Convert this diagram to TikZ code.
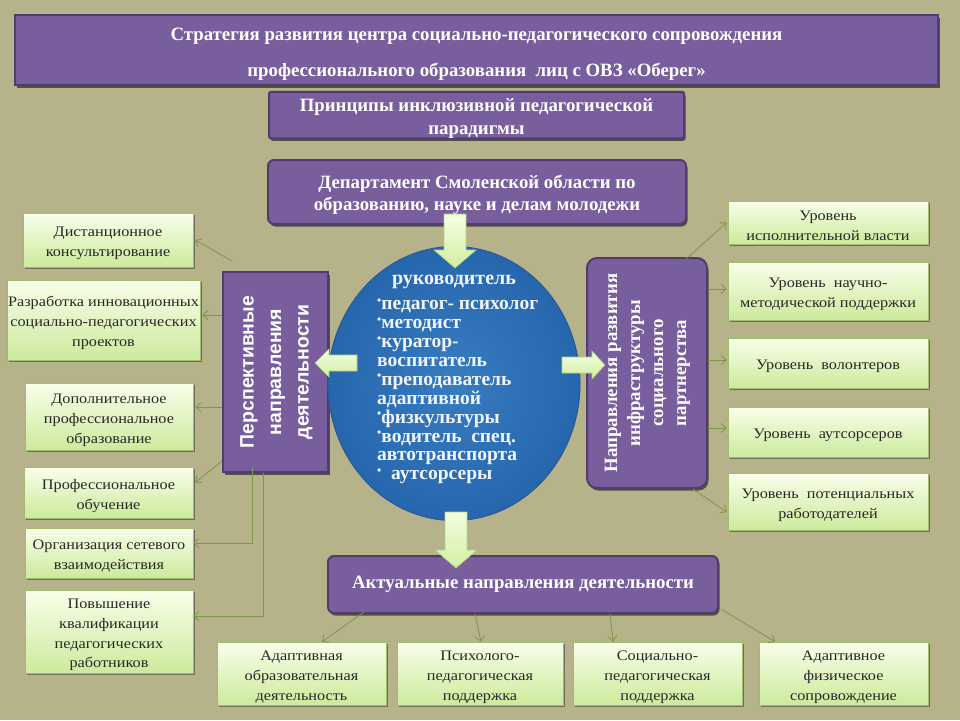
\documentclass[tikz,border=0pt]{standalone}
\usepackage{fontspec}
\setmainfont{Liberation Serif}
\newfontfamily\sansb{Liberation Sans}
\newfontfamily\wideserif[FakeStretch=1.12]{Liberation Serif}
\usetikzlibrary{arrows.meta,shadows,calc,shapes.geometric}
\definecolor{bgcol}{RGB}{182,178,138}
\definecolor{pfill}{RGB}{121,94,158}
\definecolor{pborder}{RGB}{82,60,110}
\definecolor{gtop}{RGB}{248,255,234}
\definecolor{gbot}{RGB}{204,234,156}
\definecolor{gborder}{RGB}{160,188,110}
\definecolor{gtext}{RGB}{40,40,40}
\definecolor{conncol}{RGB}{125,150,72}
\definecolor{atop}{RGB}{244,255,224}
\definecolor{abot}{RGB}{210,238,164}
\definecolor{aborder}{RGB}{175,205,130}
\definecolor{bin}{RGB}{56,124,194}
\definecolor{bout}{RGB}{38,102,172}
\definecolor{bborder}{RGB}{40,90,150}
\definecolor{ctext}{RGB}{240,245,255}
\newcommand{\gs}{\rule{0pt}{16.5pt}}
\newcommand{\ps}{\rule{0pt}{19.5pt}}
\begin{document}
\begin{tikzpicture}[x=1pt,y=-1pt,
  pbox/.style={draw=pborder, line width=2pt, fill=pfill, text=white, align=center, inner sep=0pt,
    font=\bfseries\fontsize{18.8}{23}\selectfont,
    drop shadow={shadow xshift=1.5pt, shadow yshift=-2.5pt, opacity=.55, fill=black}},
  gbox/.style={draw=gborder, line width=0.6pt, top color=gtop, bottom color=gbot, text=gtext,
    align=center, inner sep=0pt, font=\wideserif\fontsize{14.5}{19.8}\selectfont,
    drop shadow={shadow xshift=1.5pt, shadow yshift=-2pt, opacity=.6, fill=black!75}},
  conn/.style={draw=conncol, line width=0.8pt, -{Straight Barb[length=5pt,width=9pt]}},
  barrow/.style={draw=aborder, line width=0.6pt, top color=atop, bottom color=abot},
  coretext/.style={text=ctext, inner sep=0pt, font=\bfseries\fontsize{19.5}{18.9}\selectfont}
]
\fill[bgcol] (0,0) rectangle (960,720);
\useasboundingbox (0,0) rectangle (960,720);

% purple boxes
\node[pbox, minimum width=923pt, minimum height=70pt, font=\bfseries\fontsize{18.8}{36}\selectfont] (title) at (476.5,50)
  {\rule{0pt}{20.5pt}Стратегия развития центра социально-педагогического сопровождения\\профессионального образования\ \ лиц с ОВЗ «Оберег»};
\node[pbox, minimum width=415pt, minimum height=46pt, rounded corners=2pt] (princ) at (476.5,115)
  {\ps Принципы инклюзивной педагогической\\парадигмы};
\node[pbox, minimum width=418pt, minimum height=64pt, rounded corners=6pt, font=\bfseries\fontsize{18.8}{22}\selectfont] (dept) at (477,192)
  {\ps Департамент Смоленской области по\\образованию, науке и делам молодежи};
\node[pbox, minimum width=105pt, minimum height=200pt] (lv) at (275.5,372)
  {\rotatebox{90}{\sansb\bfseries\fontsize{19.4}{27.5}\selectfont\begin{tabular}{@{}c@{}}Перспективные\\направления\\деятельности\end{tabular}}};
\node[pbox, minimum width=120pt, minimum height=230pt, rounded corners=10pt] (rv) at (647,373)
  {\rotatebox{90}{\bfseries\fontsize{18.8}{23}\selectfont\begin{tabular}{@{}c@{}}Направления развития\\инфраструктуры\\социального\\партнерства\end{tabular}}};
\node[pbox, minimum width=390pt, minimum height=57pt, rounded corners=6pt] (act) at (523,584.5)
  {Актуальные направления деятельности};

% central ellipse
\node[ellipse, minimum width=252pt, minimum height=274pt, draw=bborder, line width=1pt,
  inner color=bin, outer color=bout] (core) at (454,383.5) {};
\node[coretext, font=\bfseries\fontsize{20}{20}\selectfont] (head) at (454,282) {руководитель};
\newcommand{\bul}{\raisebox{0.28em}{\fontsize{12}{12}\selectfont•}}
\node[coretext, anchor=north west, align=left] (list) at (377,298.5)
  {\bul педагог- психолог\\\bul методист\\\bul куратор-\\воспитатель\\\bul преподаватель\\адаптивной\\\bul физкультуры\\\bul водитель\ \ спец.\\автотранспорта\\\bul\ \ аутсорсеры};

% green boxes left
\node[gbox, minimum width=170pt, minimum height=54pt] (L1) at (108,240) {\gs Дистанционное\\консультирование};
\node[gbox, minimum width=193pt, minimum height=80pt] (L2) at (103.5,320) {\gs Разработка инновационных\\социально-педагогических\\проектов};
\node[gbox, minimum width=168pt, minimum height=67pt] (L3) at (109,416.5) {\gs Дополнительное\\профессиональное\\образование};
\node[gbox, minimum width=169pt, minimum height=51pt] (L4) at (108.5,492.5) {\gs Профессиональное\\обучение};
\node[gbox, minimum width=168pt, minimum height=50pt] (L5) at (109,553) {\gs Организация сетевого\\взаимодействия};
\node[gbox, minimum width=168pt, minimum height=83pt] (L6) at (109,631.5) {\gs Повышение\\квалификации\\педагогических\\работников};

% green boxes right
\node[gbox, minimum width=200pt, minimum height=43pt] (R1) at (828,222.5) {\gs Уровень\\исполнительной власти};
\node[gbox, minimum width=200pt, minimum height=58pt] (R2) at (828,291) {\gs Уровень\ \ научно-\\методической поддержки};
\node[gbox, minimum width=200pt, minimum height=50pt] (R3) at (828,363) {\gs Уровень\ \ волонтеров};
\node[gbox, minimum width=200pt, minimum height=50pt] (R4) at (828,432) {\gs Уровень\ \ аутсорсеров};
\node[gbox, minimum width=200pt, minimum height=57pt] (R5) at (828,501.5) {\gs Уровень\ \ потенциальных\\работодателей};

% green boxes bottom
\node[gbox, minimum width=169pt, minimum height=63pt] (B1) at (301.5,673.5) {\gs Адаптивная\\образовательная\\деятельность};
\node[gbox, minimum width=166pt, minimum height=63pt] (B2) at (480,673.5) {\gs Психолого-\\педагогическая\\поддержка};
\node[gbox, minimum width=169pt, minimum height=63pt] (B3) at (657.5,673.5) {\gs Социально-\\педагогическая\\поддержка};
\node[gbox, minimum width=169pt, minimum height=63pt] (B4) at (843.5,673.5) {\gs Адаптивное\\физическое\\сопровождение};

% block arrows
\path[barrow] (444,214) -- (466,214) -- (466,250) -- (476,250) -- (455,268) -- (434,250) -- (444,250) -- cycle;
\path[barrow] (445,512) -- (467,512) -- (467,550) -- (477,550) -- (456,568) -- (435,550) -- (445,550) -- cycle;
\path[barrow] (357,355) -- (357,371) -- (329,371) -- (329,377) -- (315,363) -- (329,349) -- (329,355) -- cycle;
\path[barrow] (562,357) -- (592,357) -- (592,351) -- (605,365) -- (592,379) -- (592,373) -- (562,373) -- cycle;

% connectors left
\draw[conn] ($(lv.north west)+(10,-10)$) -- ($(L1.east)+(2,0)$);
\draw[conn] ($(lv.west)+(0,-57)$) -- ($(L2.east)+(2,-5)$);
\draw[conn] ($(lv.west)+(0,35)$) -- ($(L3.east)+(2,-9.5)$);
\draw[conn] ($(lv.south west)+(0,-12)$) -- ($(L4.east)+(2,-10)$);
\draw[conn] ($(lv.south)+(-23.5,-6)$) |- ($(L5.east)+(0,-10)$);
\draw[conn] ($(lv.south)+(-12.5,0)$) |- ($(L6.east)+(0,-15.5)$);
% connectors right
\draw[conn] ($(rv.north east)+(-22,2)$) -- ($(R1.west)+(-1,0)$);
\draw[conn] ($(rv.east)+(0,-84)$) -- ($(R2.west)+(-1,-2)$);
\draw[conn] ($(rv.east)+(0,-13)$) -- ($(R3.west)+(-1,-3)$);
\draw[conn] ($(rv.east)+(0,55)$) -- ($(R4.west)+(-1,-4)$);
\draw[conn] ($(rv.south east)+(-15,0)$) -- ($(R5.west)+(-1,10.5)$);
% connectors bottom
\draw[conn] ($(act.south west)+(37,-2)$) -- ($(B1.north)+(20.5,0)$);
\draw[conn] ($(act.south)+(-48,0)$) -- ($(B2.north)+(1,0)$);
\draw[conn] ($(act.south)+(87,0)$) -- ($(B3.north)+(-44.5,0)$);
\draw[conn] ($(act.south east)+(2,-5)$) -- ($(B4.north)+(-68.5,0)$);
\end{tikzpicture}
\end{document}
